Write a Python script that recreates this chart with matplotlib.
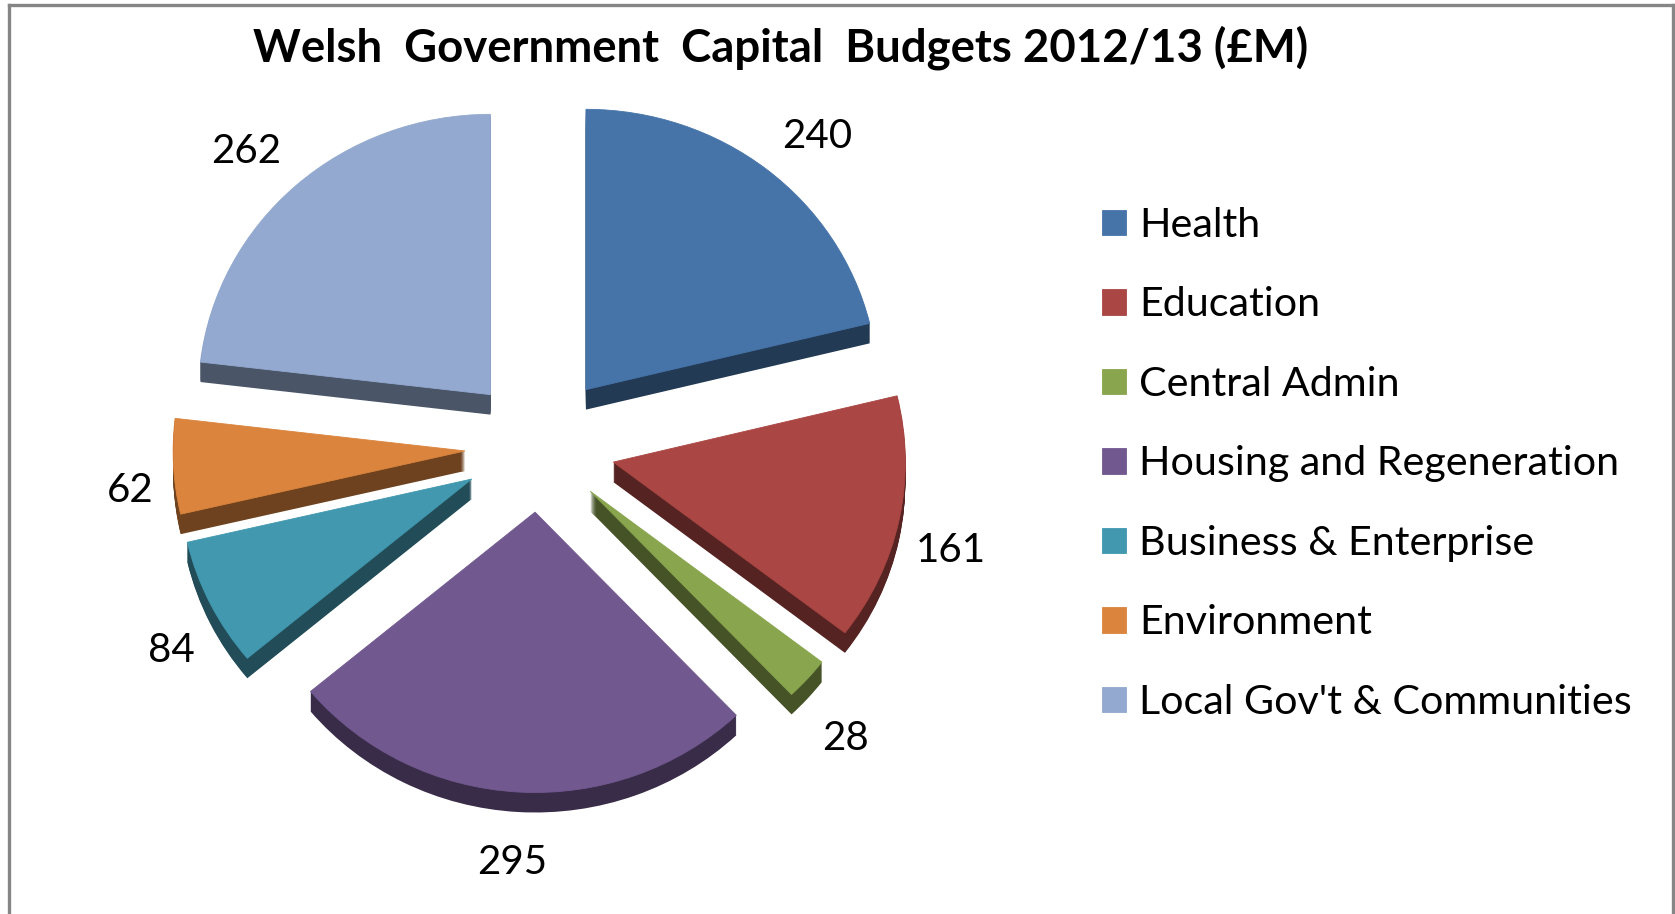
import matplotlib
matplotlib.use("Agg")
import matplotlib.pyplot as plt
from matplotlib.lines import Line2D
from matplotlib.colors import to_rgb

categories = ["Health", "Education", "Central Admin", "Housing and Regeneration",
              "Business & Enterprise", "Environment", "Local Gov't & Communities"]
values = [240, 161, 28, 295, 84, 62, 262]
colors = ["#4674A9", "#AA4643", "#89A54E", "#71588F", "#4198AF", "#DB843D", "#93A9CF"]
explode = [76, 76, 69, 68, 75, 74, 73]   # pixels
title = "Welsh  Government  Capital  Budgets 2012/13 (£M)"

W, H = 1675, 914
CX, CY = 539, 447      # pie centre, pixels from top-left
R = 292                # horizontal radius, pixels
K = 0.96               # vertical squash
DEPTH = 20
label_xy = [(817, 136), (951, 550), (845, 739), (512, 862), (171, 651), (130, 490), (246, 152)]

plt.rcParams['font.family'] = ['Lato', 'DejaVu Sans']
fig = plt.figure(figsize=(W / 100, H / 100), dpi=100, facecolor="white")
ax = fig.add_axes([0, 0, 1, 1])

def fx(x): return x / W
def fy(y): return 1 - y / H

dark = [tuple(c * 0.5 for c in to_rgb(col)) for col in colors]
for d in range(DEPTH, 0, -1):
    ax.pie(values, explode=explode, colors=dark, radius=R, startangle=90, counterclock=False,
           center=(0, -d / K), wedgeprops=dict(linewidth=0), frame=False)
wedges, _ = ax.pie(values, explode=explode, colors=colors, radius=R, startangle=90,
                   counterclock=False, center=(0, 0), wedgeprops=dict(linewidth=0), frame=False)
for w, col in zip(wedges, colors):
    w.set_edgecolor(col)
    w.set_linewidth(0.6)
ax.set_aspect('auto')
ax.set_xlim(-CX, W - CX)
ax.set_ylim(-(H - CY) / K, CY / K)
ax.axis('off')

for v, (x, y) in zip(values, label_xy):
    fig.text(fx(x), fy(y), str(v), fontsize=29, color="black", ha="center", va="center")

fig.text(fx(781), fy(48), title, fontsize=32.8, fontweight="bold", color="black",
         ha="center", va="center")

ax.legend(wedges, categories, loc="upper left", bbox_to_anchor=(fx(1102), fy(207)),
          bbox_transform=fig.transFigure, frameon=False, fontsize=29.7,
          handlelength=0.585, handleheight=0.57, handletextpad=0.32,
          labelspacing=1.03, borderpad=0, borderaxespad=0)

frame = "#868686"
for xs, ys in [((8.5, 8.5), (H, 5)), ((8.5, 1673), (5, 5)), ((1673, 1673), (5, H))]:
    fig.add_artist(Line2D([fx(a) for a in xs], [fy(b) for b in ys], color=frame, lw=2.4))

fig.savefig("out.png", dpi=100)
